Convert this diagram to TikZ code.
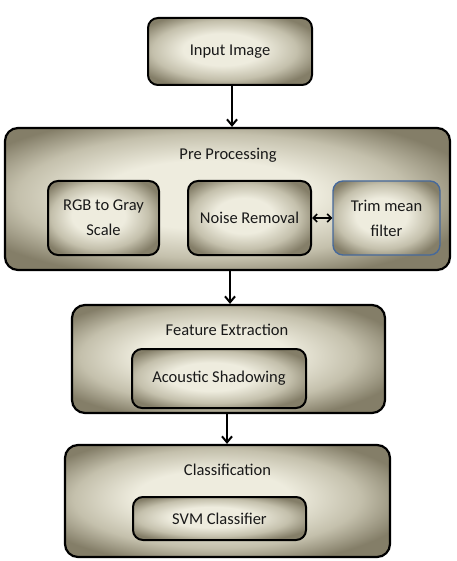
\documentclass[tikz,border=0pt]{standalone}
\usepackage{fontspec}
\setmainfont{Carlito}
\usetikzlibrary{arrows.meta}
\definecolor{shadeout}{RGB}{132,126,104}
\definecolor{shademid}{RGB}{196,192,172}
\definecolor{shadein}{RGB}{238,236,222}
\definecolor{trimblue}{RGB}{70,105,155}
\definecolor{textdark}{RGB}{25,25,25}
\pgfdeclareradialshading{boxshade}{\pgfpoint{-3bp}{2bp}}{color(0bp)=(shadein); color(12bp)=(shadein); color(22bp)=(shademid); color(30bp)=(shadeout); color(50bp)=(shadeout)}
\tikzset{
  bigbox/.style={draw=black, line width=2.2pt, rounded corners=13pt, shading=boxshade, inner sep=0pt},
  smallbox/.style={draw=black, line width=2pt, rounded corners=10pt, shading=boxshade, inner sep=0pt, align=center, text=textdark, font=\fontsize{16.5}{25}\selectfont},
  title/.style={font=\fontsize{16.5}{20}\selectfont, text=textdark, inner sep=0pt},
  flow/.style={line width=2pt, -{Straight Barb[length=6pt,width=10pt,line width=2pt]}},
  twoway/.style={line width=1.6pt, {Straight Barb[length=4pt,width=8pt]}-{Straight Barb[length=4pt,width=8pt]}}
}
\begin{document}
\begin{tikzpicture}[x=1pt,y=-1pt]
\useasboundingbox (0,0) rectangle (456,561);
\node[smallbox, minimum width=164pt, minimum height=67pt] (in) at (230,51.5) {Input Image};
\node[bigbox, minimum width=445pt, minimum height=142pt] (pre) at (227.5,199) {};
\node[title] (pret) at (228,155) {Pre Processing};
\node[smallbox, minimum width=111pt, minimum height=74pt] (rgb) at (103.5,218) {RGB to Gray\\Scale};
\node[smallbox, minimum width=123pt, minimum height=74pt] (noise) at (249.5,218) {Noise Removal};
\node[smallbox, draw=trimblue, line width=1.4pt, minimum width=107pt, minimum height=74pt] (trim) at (386.5,218) {Trim mean\\filter};
\node[bigbox, minimum width=313pt, minimum height=108pt] (feat) at (228.5,359) {};
\node[title] (featt) at (227,330) {Feature Extraction};
\node[smallbox, minimum width=174pt, minimum height=59pt] (acou) at (219,378.5) {Acoustic Shadowing};
\node[bigbox, minimum width=325pt, minimum height=112pt] (cls) at (227.5,501) {};
\node[title] (clst) at (227.5,470) {Classification};
\node[smallbox, minimum width=173pt, minimum height=43pt] (svm) at (219.5,518.5) {SVM Classifier};
\coordinate (a1) at (232,85);
\coordinate (a2) at (230,270);
\coordinate (a3) at (227,413);
\draw[flow] (a1) -- (a1 |- pre.north);
\draw[flow] (a2) -- (a2 |- feat.north);
\draw[flow] (a3) -- (a3 |- cls.north);
\draw[twoway] (noise.east) -- (trim.west);
\end{tikzpicture}
\end{document}
